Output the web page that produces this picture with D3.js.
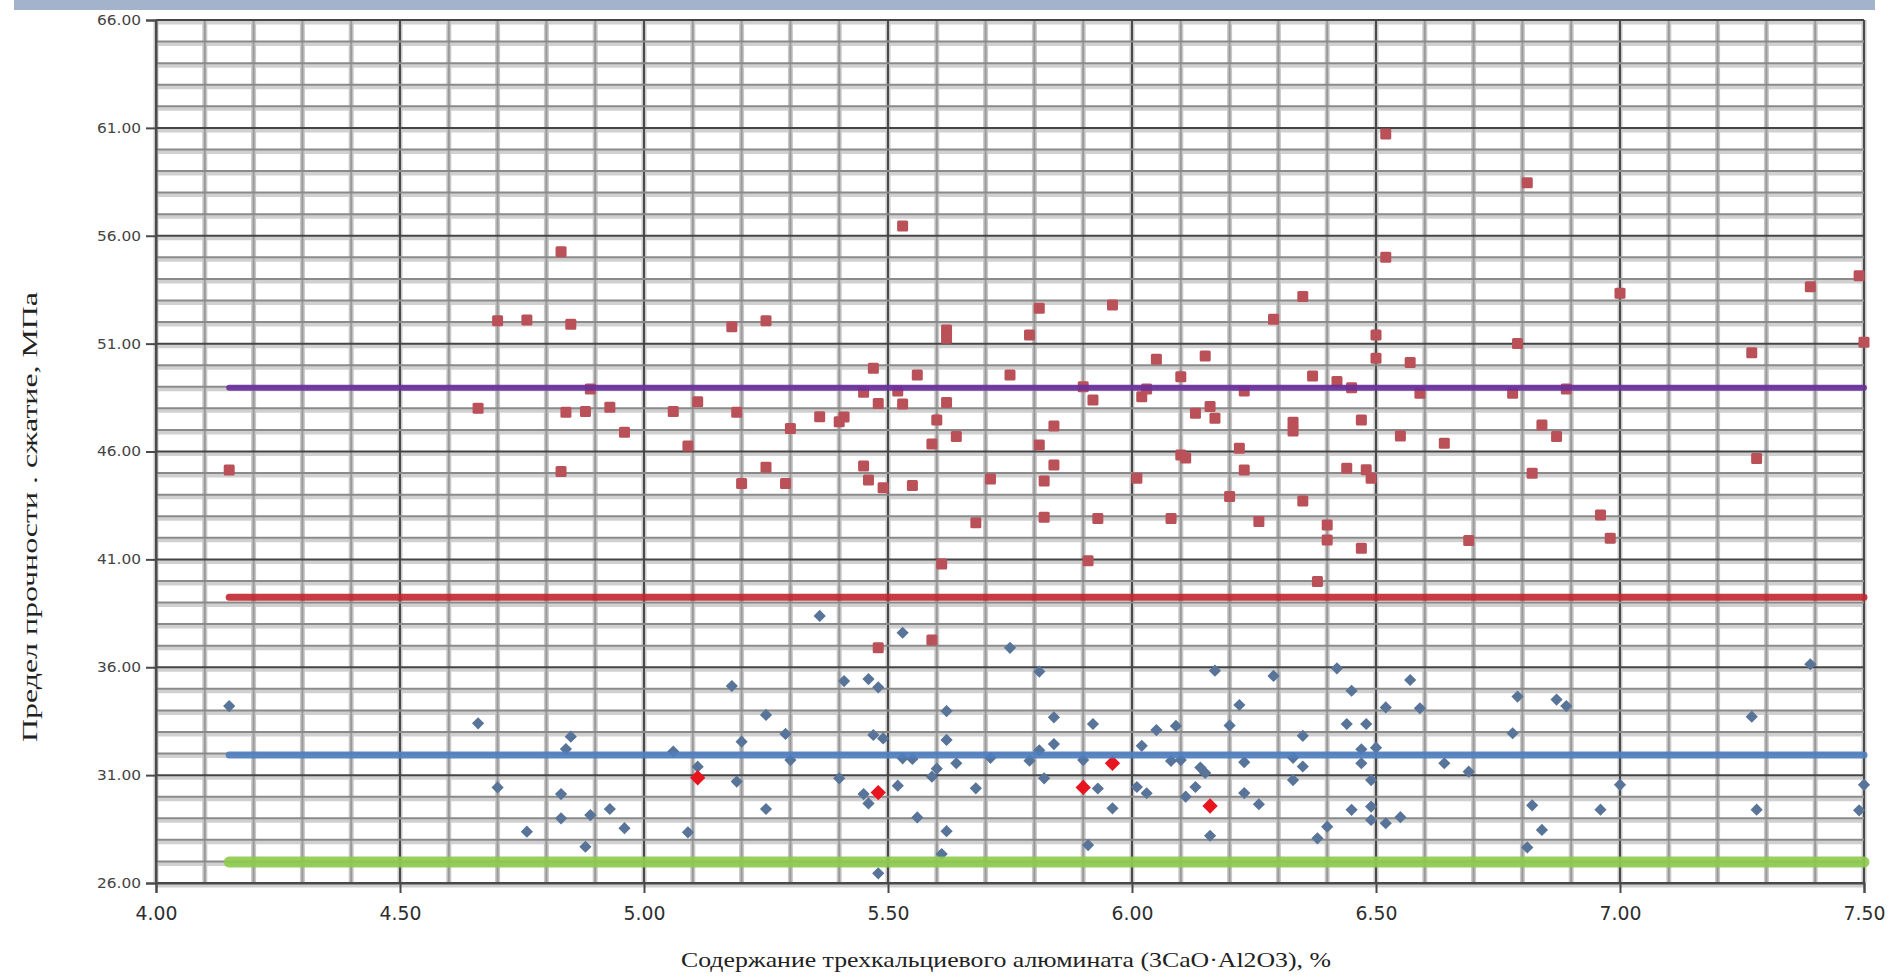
<!DOCTYPE html>
<html><head><meta charset="utf-8">
<script src="https://cdn.jsdelivr.net/npm/d3@7"></script>
<style>html,body{margin:0;padding:0;background:#fff;overflow:hidden}</style>
</head><body>
<svg id="chart" width="1893" height="977"></svg>
<script>
// ---------- data ----------
const xDomain = [4, 7.5];
const yDomain = [26, 66];
const xTickValues = [4, 4.5, 5, 5.5, 6, 6.5, 7, 7.5];
const yTickValues = [26, 31, 36, 41, 46, 51, 56, 61, 66];
const xTitle = "Содержание трехкальциевого алюмината (3CaO·Al2O3), %";
const yTitle = "Предел прочности . сжатие, МПа";

// upper series (squares)
const upperPoints = [
 [4.15,45.14],[4.70,52.06],[4.76,52.10],[4.85,51.90],[4.83,55.26],[4.66,48.00],[4.84,47.82],[4.88,47.85],
 [4.93,48.05],[4.89,48.90],[4.96,46.89],[4.83,45.07],[5.06,47.85],[5.11,48.31],[5.09,46.25],[5.18,51.78],
 [5.25,52.06],[5.19,47.82],[5.20,44.52],[5.25,45.27],[5.29,44.52],[5.30,47.07],[5.36,47.61],[5.40,47.38],
 [5.41,47.60],[5.45,45.33],[5.46,44.68],[5.49,44.32],[5.55,44.42],[5.47,49.86],[5.48,48.23],[5.53,48.20],
 [5.56,49.55],[5.45,48.75],[5.52,48.80],[5.53,56.45],[5.62,51.63],[5.62,51.25],[5.62,48.27],[5.60,47.46],
 [5.64,46.69],[5.59,46.35],[5.71,44.72],[5.68,42.70],[5.61,40.79],[5.59,37.26],[5.48,36.90],
 [6.52,60.72],[6.81,58.46],[6.52,55.00],[7.00,53.33],[7.39,53.64],[7.49,54.15],[7.50,51.06],[7.27,50.58],
 [7.28,45.68],[6.79,51.01],[6.89,48.90],[6.78,48.70],[6.84,47.23],[6.87,46.69],[6.82,44.99],[6.96,43.06],
 [6.98,41.98],[6.69,41.87],[6.64,46.38],[6.59,48.70],[6.57,50.12],[6.55,46.72],[6.50,51.40],[6.50,50.32],
 [6.47,47.46],[6.45,48.95],[6.42,49.25],[6.37,49.50],[6.35,53.18],[6.29,52.13],[6.33,47.35],[6.33,46.95],
 [6.44,45.22],[6.48,45.15],[6.49,44.76],[6.47,41.51],[6.40,42.59],[6.40,41.90],[6.38,39.97],[6.35,43.71],
 [6.26,42.75],[6.23,45.14],[6.22,46.15],[6.20,43.91],[6.23,48.80],[6.15,50.43],[6.16,48.08],[6.13,47.77],
 [6.17,47.54],[6.10,45.84],[6.11,45.70],[6.10,49.47],[6.05,50.27],[6.02,48.54],[6.03,48.90],[6.01,44.76],
 [6.08,42.90],[5.96,52.79],[5.92,48.39],[5.90,49.00],[5.93,42.90],[5.91,40.94],[5.84,47.18],[5.81,46.30],
 [5.84,45.37],[5.82,44.63],[5.82,42.95],[5.81,52.64],[5.79,51.40],[5.75,49.55]
];

// lower series (diamonds)
const lowerPoints = [
 [4.15,34.20],[4.66,33.40],[4.85,32.78],[4.84,32.21],[4.70,30.43],[4.83,30.12],[4.83,29.00],[4.89,29.15],
 [4.93,29.43],[4.96,28.54],[4.76,28.38],[4.88,27.68],[5.09,28.35],[5.06,32.09],[5.11,31.39],[5.18,35.13],
 [5.20,32.55],[5.19,30.70],[5.25,33.79],[5.29,32.91],[5.30,31.70],[5.25,29.43],[5.36,38.38],[5.41,35.36],
 [5.46,35.45],[5.48,35.07],[5.53,37.60],[5.75,36.90],[5.47,32.86],[5.49,32.70],[5.62,33.97],[5.62,32.63],
 [5.53,31.78],[5.55,31.75],[5.64,31.55],[5.60,31.30],[5.59,30.93],[5.40,30.85],[5.52,30.51],[5.45,30.12],
 [5.46,29.69],[5.68,30.39],[5.56,29.04],[5.62,28.40],[5.61,27.34],[5.48,26.45],[5.71,31.80],
 [5.81,35.80],[5.84,33.68],[5.92,33.37],[5.84,32.44],[5.81,32.15],[5.79,31.67],[5.82,30.85],[5.93,30.38],
 [5.96,29.46],[5.91,27.76],[5.90,31.70],[6.02,32.36],[6.05,33.09],[6.09,33.28],[6.01,30.45],[6.03,30.16],
 [6.08,31.66],[6.10,31.70],[6.14,31.35],[6.15,31.10],[6.13,30.45],[6.11,30.00],[6.16,28.19],[6.17,35.84],
 [6.22,34.25],[6.20,33.30],[6.23,31.60],[6.23,30.17],[6.26,29.65],[6.29,35.60],[6.35,32.82],[6.33,31.80],
 [6.35,31.40],[6.33,30.77],[6.42,35.95],[6.45,34.91],[6.44,33.37],[6.48,33.37],[6.47,32.20],[6.50,32.27],
 [6.47,31.55],[6.49,30.77],[6.49,29.54],[6.45,29.39],[6.49,28.92],[6.52,28.77],[6.55,29.05],[6.40,28.61],
 [6.38,28.07],[6.57,35.41],[6.52,34.14],[6.59,34.10],[6.64,31.55],[6.69,31.16],[6.79,34.64],[6.78,32.94],
 [6.87,34.50],[6.89,34.20],[6.82,29.60],[6.84,28.46],[6.81,27.65],[6.96,29.40],[7.00,30.55],[7.39,36.14],
 [7.27,33.71],[7.28,29.40],[7.50,30.55],[7.49,29.37]
];

// highlighted points (bright diamonds)
const highlightPoints = [[5.11,30.88],[5.48,30.19],[5.90,30.43],[5.96,31.55],[6.16,29.57]];

// horizontal reference levels
const levelNames = ["upper mean", "upper limit", "lower mean", "lower limit"];
const levelValues = [48.96, 39.25, 31.93, 26.97];
const levelStart = 4.15, levelEnd = 7.5;

// ---------- drawing ----------
const svg = d3.select("#chart");
const pLeft = 156, pRight = 1864, pTop = 20, pBottom = 883;
const x = d3.scaleLinear().domain(xDomain).range([pLeft, pRight]);
const y = d3.scaleLinear().domain(yDomain).range([pBottom, pTop]);

// header bar
svg.append("rect").attr("x", 14).attr("y", 0).attr("width", 1861).attr("height", 10).attr("fill", "#a3b3cb");

const g = svg.append("g");
const isMajorX = v => Math.abs(v*2 - Math.round(v*2)) < 1e-6;
const xGrid = d3.range(0, 36).map(i => +(xDomain[0] + i*0.1).toFixed(2));
const yGrid = d3.range(yDomain[0], yDomain[1] + 1);
const isMajorY = v => (v - 26) % 5 === 0;

// light halos
g.selectAll(".hb").data(yGrid).join("line")
  .attr("x1", pLeft).attr("x2", pRight)
  .attr("y1", d => y(d) + 2.5).attr("y2", d => y(d) + 2.5)
  .attr("stroke", "#d0d0d0").attr("stroke-width", 4);
g.selectAll(".vb").data(xGrid).join("line")
  .attr("y1", pTop).attr("y2", pBottom)
  .attr("x1", d => x(d)).attr("x2", d => x(d))
  .attr("stroke", "#c8c8c8").attr("stroke-width", 5);
// lines
g.selectAll(".vl").data(xGrid).join("line")
  .attr("y1", pTop).attr("y2", pBottom)
  .attr("x1", d => x(d)).attr("x2", d => x(d))
  .attr("stroke", d => isMajorX(d) ? "#4a4a4a" : "#9a9a9a")
  .attr("stroke-width", 2);
g.selectAll(".hl").data(yGrid).join("line")
  .attr("x1", pLeft).attr("x2", pRight)
  .attr("y1", d => y(d)).attr("y2", d => y(d))
  .attr("stroke", d => isMajorY(d) ? "#454545" : "#8a8a8a")
  .attr("stroke-width", 2);

// axes
const yAxis = d3.axisLeft(y).tickValues(yTickValues).tickFormat(d3.format(".2f")).tickSize(10).tickPadding(5);
const xAxis = d3.axisBottom(x).tickValues(xTickValues).tickFormat(d3.format(".2f")).tickSize(10).tickPadding(14);
const ya = svg.append("g").attr("transform", `translate(${pLeft},0)`).call(yAxis);
const xa = svg.append("g").attr("transform", `translate(0,${pBottom})`).call(xAxis);
[ya, xa].forEach(a => {
  a.select(".domain").attr("stroke", "#4a4a4a").attr("stroke-width", 2);
  a.selectAll(".tick line").attr("stroke", "#4a4a4a").attr("stroke-width", 2);
});
ya.selectAll(".tick text").attr("font-family", "DejaVu Sans").attr("font-size", 14)
  .attr("fill", "#444").attr("textLength", 44).attr("lengthAdjust", "spacingAndGlyphs");
xa.selectAll(".tick text").attr("font-family", "DejaVu Sans").attr("font-size", 19)
  .attr("fill", "#2e2e2e").attr("textLength", 42).attr("lengthAdjust", "spacingAndGlyphs");

// points
const sq = 11;
svg.append("g").selectAll("rect").data(upperPoints).join("rect")
  .attr("x", d => x(d[0]) - sq/2).attr("y", d => y(d[1]) - sq/2)
  .attr("width", sq).attr("height", sq).attr("rx", 1.5)
  .attr("fill", "#ba5058");
const diamond = d3.symbol().type(d3.symbolDiamond2).size(95);
svg.append("g").selectAll("path").data(lowerPoints).join("path")
  .attr("d", diamond).attr("transform", d => `translate(${x(d[0])},${y(d[1])})`)
  .attr("fill", "#587498");
svg.append("g").selectAll("path").data(highlightPoints).join("path")
  .attr("d", d3.symbol().type(d3.symbolDiamond2).size(150))
  .attr("transform", d => `translate(${x(d[0])},${y(d[1])})`)
  .attr("fill", "#e8141e");

// reference levels (drawn over points)
const levelColors = ["#6a2f9e", "#c1272f", "#4f7fc1", "#8fcb4c"];
const levelWidths = [6, 7, 7, 11];
svg.append("g").selectAll("line").data(levelValues).join("line")
  .attr("x1", x(levelStart)).attr("x2", x(levelEnd))
  .attr("y1", d => y(d)).attr("y2", d => y(d))
  .attr("stroke", (d, i) => levelColors[i]).attr("stroke-width", (d, i) => levelWidths[i])
  .attr("stroke-linecap", "round").attr("opacity", 0.9);

// titles
svg.append("text").attr("x", 1006).attr("y", 967).attr("text-anchor", "middle")
  .attr("font-family", "Liberation Serif").attr("font-size", 21).attr("fill", "#222")
  .attr("textLength", 650).attr("lengthAdjust", "spacingAndGlyphs").text(xTitle);
svg.append("text").attr("transform", "translate(37,517) rotate(-90)").attr("text-anchor", "middle")
  .attr("font-family", "Liberation Serif").attr("font-size", 22).attr("fill", "#222")
  .attr("textLength", 450).attr("lengthAdjust", "spacingAndGlyphs").text(yTitle);
</script>
</body></html>
